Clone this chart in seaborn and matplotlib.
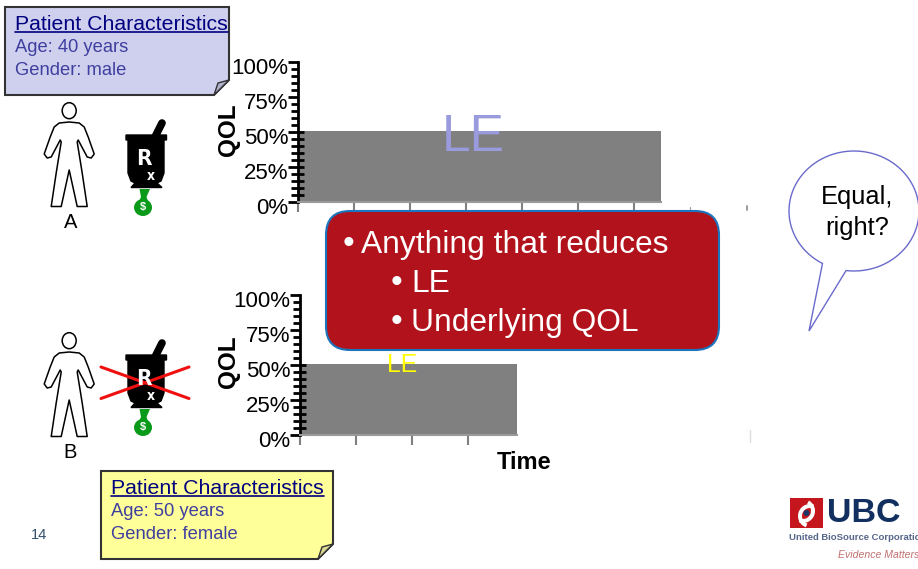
import numpy as np
import pandas as pd
import matplotlib
matplotlib.use("Agg")
import matplotlib.pyplot as plt
import seaborn as sns
from matplotlib.patches import Polygon, Ellipse, FancyBboxPatch, Rectangle, Wedge
from matplotlib.transforms import ScaledTranslation

sns.set_theme(style="white")
plt.rcParams["font.family"] = ["Liberation Sans", "DejaVu Sans"]

# chart values
le_a = 6.48
le_b = 3.88
qol_a = 51
qol_b = 51
x_ticks_a = [0, 1, 2, 3, 4, 5, 6]
x_ticks_b = [0, 1, 2, 3]
y_major = [0, 25, 50, 75, 100]
y_minor = [5, 10, 15, 20, 30, 35, 40, 45, 55, 60, 65, 70, 80, 85, 90, 95]
y_labels = ["0%", "25%", "50%", "75%", "100%"]

GREY = "#808080"
W, H = 918, 569

fig = plt.figure(figsize=(W / 100, H / 100), dpi=100, facecolor="white")


def chart(left, top, le, qol, xticks, label_y, xlim=8):
    ax = fig.add_axes([left / W, 1 - (top + 140) / H, 448 / W, 140 / H])
    df = pd.DataFrame({"mid": [le / 2], "qol": [qol]})
    sns.barplot(data=df, x="mid", y="qol", native_scale=True, width=le, gap=0,
                color=GREY, saturation=1, linewidth=0, ax=ax)
    ax.set_xlim(0, xlim)
    ax.set_ylim(0, 100)
    ax.set_yticks(y_major, y_labels, fontsize=16, color="black")
    ax.set_yticks(y_minor, minor=True)
    ax.set_xticks(xticks, [""] * len(xticks))
    ax.tick_params(axis="y", which="major", left=True, length=7, width=2,
                   color="black", pad=0)
    ax.tick_params(axis="y", which="minor", left=True, length=5, width=2,
                   color="black")
    ax.tick_params(axis="x", bottom=True, length=7, width=1.5, color=GREY)
    # tick labels sit a little under their ticks
    shift = ScaledTranslation(0, -4 / 100, fig.dpi_scale_trans)
    for lab in ax.get_yticklabels():
        lab.set_transform(lab.get_transform() + shift)
    # the ticks carry on into the bar
    ax.hlines([t for t in y_major + y_minor if t <= 50], 0, 0.1, color="black", lw=2)
    for s in ["top", "right"]:
        ax.spines[s].set_visible(False)
    ax.spines["left"].set_color("black")
    ax.spines["left"].set_linewidth(2)
    ax.spines["bottom"].set_color("#999999")
    ax.spines["bottom"].set_linewidth(1.5)
    ax.spines["bottom"].set_bounds(0, le)
    ax.set_ylabel("QOL", fontsize=17.5, fontweight="bold", color="black", va="center")
    ax.yaxis.set_label_coords((228.5 - left) / 448, label_y)
    ax.set_xlabel("")
    return ax


ax_a = chart(298, 62, le_a, qol_a, x_ticks_a, 0.514)
ax_b = chart(300, 295, le_b, qol_b, x_ticks_b, 0.52)
ax_b.set_xlabel("Time", fontsize=17, fontweight="bold", color="black", labelpad=1)

# overlay in pixel coordinates for the slide drawings
ov = fig.add_axes([0, 0, 1, 1], zorder=10)
ov.set_xlim(0, W)
ov.set_ylim(H, 0)
ov.axis("off")
ov.patch.set_alpha(0)


def note(x0, y0, x1, y1, fill, fold, title, age, gender):
    ov.add_patch(Polygon([(x0, y0), (x1, y0), (x1, y1 - 15), (x1 - 15, y1), (x0, y1)],
                         fc=fill, ec="#333333", lw=1.5))
    ov.add_patch(Polygon([(x1 - 15, y1), (x1, y1 - 15), (x1 - 11, y1 - 12)],
                         fc=fold, ec="#333333", lw=1))
    tx = x0 + 10
    ov.text(tx, y0 + 23, title, fontsize=15.3, color="#000080", va="baseline")
    ov.plot([tx, tx + 213], [y0 + 25, y0 + 25], color="#000080", lw=1.2)
    ov.text(tx, y0 + 45, age, fontsize=13.2, color="#3f3f9f", va="baseline")
    ov.text(tx, y0 + 68, gender, fontsize=13.2, color="#3f3f9f", va="baseline")


note(5, 7, 229, 95, "#cfd0ee", "#b0b0cc", "Patient Characteristics",
     "Age: 40 years", "Gender: male")
note(101, 471, 333, 559, "#ffff99", "#d8d890", "Patient Characteristics",
     "Age: 50 years", "Gender: female")


def person(dy, label):
    cx = 69.2
    right = np.array([(0, 122), (10, 123), (15, 127), (19, 137), (25, 154), (22, 158),
                      (18, 157), (9, 140), (8, 142), (13, 173), (18, 206.5), (8, 206.5),
                      (0, 170)])
    left = right[::-1] * np.array([-1, 1])
    pts = np.vstack([right, left[1:-1]]) + np.array([cx, dy])
    ov.add_patch(Polygon(pts, fc="white", ec="black", lw=1.1, joinstyle="round"))
    ov.add_patch(Ellipse((cx, 110.7 + dy), 14, 16, fc="white", ec="black", lw=1.1))
    ov.text(cx + 1, 228 + dy, label, fontsize=14.5, color="black", ha="center", va="baseline")


person(0, "A")
person(230, "B")


def mortar(dy):
    body = [(126, 135), (166.5, 135), (166.5, 140), (164, 140), (164, 173), (161, 181),
            (157, 183), (162, 187.5), (131, 187.5), (135, 183), (131, 181), (128, 173),
            (128, 140), (126, 140)]
    ov.add_patch(Polygon(np.array(body) + [0, dy], fc="black", ec="black", lw=1))
    ov.plot([155, 162], [137 + dy, 123 + dy], color="black", lw=5.5, solid_capstyle="round")
    ov.text(144, 159 + dy, "R", fontsize=16, color="white", fontweight="bold",
            family="DejaVu Sans", stretch="condensed", ha="center", va="center")
    ov.text(151, 176 + dy, "x", fontsize=10, color="white", fontweight="bold",
            family="DejaVu Sans", stretch="condensed", ha="center", va="center")
    ov.add_patch(Polygon([(139.5, 189 + dy), (150, 189 + dy), (146.5, 197 + dy),
                          (148, 201 + dy), (139, 201 + dy), (141, 197 + dy)],
                         fc="#0a9a1a", ec="none"))
    ov.add_patch(Ellipse((143, 207.5 + dy), 18, 17, fc="#0a9a1a", ec="none"))
    ov.text(143, 207 + dy, "$", fontsize=8, color="white", fontweight="bold",
            ha="center", va="center")


mortar(0)
mortar(220)
ov.plot([101, 189], [367, 398.5], color="#f01010", lw=2.2)
ov.plot([101, 189], [398.5, 367], color="#f01010", lw=2.2)

# LE labels
ov.text(473, 151, "LE", fontsize=37, color="#9a9ade", ha="center", va="baseline")
ov.text(402, 372, "LE", fontsize=17.7, color="#ffff00", ha="center", va="baseline")

# tiny leftovers of the hidden axis
ov.plot([690, 690], [207, 209], color="#999999", lw=0.8)
ov.plot([747, 747], [206, 210], color="#888888", lw=1.2)
ov.plot([749.5, 749.5], [430, 442], color="#dddddd", lw=1)

# red callout
ov.add_patch(FancyBboxPatch((350, 235), 345, 91, boxstyle="round,pad=24,rounding_size=24",
                            fc="#b2121b", ec="#1b75bc", lw=1.5, zorder=5))
for x, bx, y, s in [(361, 348, 253, "Anything that reduces"),
                    (411, 396, 291.7, "LE"),
                    (411, 396, 330.7, "Underlying QOL")]:
    ov.text(bx, y, "•", fontsize=24, color="white", ha="center", va="baseline", zorder=6)
    ov.text(x, y, s, fontsize=22.9, color="white", va="baseline", zorder=6)

# speech bubble
th = np.radians(np.linspace(97, -241, 90))
bub = np.column_stack([854 + 65 * np.cos(th), 211 + 60 * np.sin(th)])
bub = np.vstack([bub, [(809, 331)]])
ov.add_patch(Polygon(bub, fc="white", ec="#6a6acc", lw=1))
ov.text(857, 197, "Equal,", fontsize=18.3, color="black", ha="center", va="center")
ov.text(857, 228, "right?", fontsize=18.3, color="black", ha="center", va="center")

# slide number and logo
ov.text(39, 535, "14", fontsize=10.5, color="#34506c", ha="center", va="center")
ov.add_patch(Rectangle((790, 498), 33, 30, fc="#c4161c", ec="none"))
ov.add_patch(Wedge((803, 511), 12, 300, 470, width=4, fc="white", ec="none"))
ov.add_patch(Wedge((810, 516), 12, 110, 290, width=4, fc="white", ec="none"))
ov.add_patch(Ellipse((806.5, 513), 6, 6, fc="#1a3668", ec="none"))
ov.text(827, 514, "UBC", fontsize=24.5, fontweight="bold", color="#12305f", va="center")
ov.text(789, 537, "United BioSource Corporation", fontsize=6.8, color="#55658a",
        fontweight="bold", va="center", clip_on=True)
ov.text(838, 555, "Evidence Matters", fontsize=7.6, style="italic", color="#c27070",
        va="center", clip_on=True)

fig.savefig("out.png", dpi=100)
